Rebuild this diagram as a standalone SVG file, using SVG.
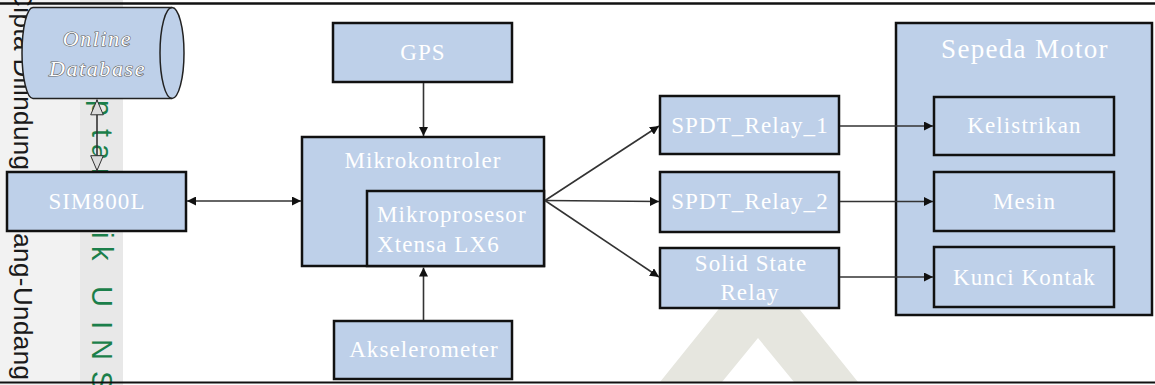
<svg xmlns="http://www.w3.org/2000/svg" width="1155" height="385" viewBox="0 0 1155 385">
<defs>
<style>
.box{fill:#bed0e9;stroke:#111;stroke-width:2.5}
.t{font-size:23px;fill:#ffffff;letter-spacing:1.1px;text-anchor:middle}
.c{fill:none;stroke:#333;stroke-width:1.6}
</style>
<marker id="ah" viewBox="0 0 10 10" refX="10" refY="5" markerWidth="9" markerHeight="9" markerUnits="userSpaceOnUse" orient="auto-start-reverse"><path d="M0,0 L10,5 L0,10 z" fill="#111"/></marker>
<marker id="ho" viewBox="0 0 16 14" refX="16" refY="7" markerWidth="17" markerHeight="14" markerUnits="userSpaceOnUse" orient="auto-start-reverse"><path d="M0.7,0.7 L15.5,7 L0.7,13.3 z" fill="#dcdcdc" stroke="#333" stroke-width="1"/></marker>
</defs>
<rect x="0" y="0" width="1155" height="385" fill="#ffffff"/>
<g id="watermark" font-family="Liberation Sans, Arial, sans-serif">
<rect x="0" y="0" width="80" height="385" fill="#f2f2f2"/>
<rect x="80" y="0" width="43" height="385" fill="#e8e8e8"/>
<path d="M759,259 L858,382 L660,382 Z M758,338 L722,382 L794,382 Z" fill="#e6e6df" fill-rule="evenodd"/>
<g transform="translate(14,0) rotate(90)"><text x="-67" y="0" font-size="26" fill="#1a1a1a" textLength="447" lengthAdjust="spacing">Hak Cipta Dilindungi Undang-Undang</text></g>
<g transform="translate(92,0) rotate(90)"><text x="-62 -40 -18 0 30 70 100 129 144 160 168 195 210 232 246 270 286 321 339 360 371" y="0" font-size="29" fill="#1b7f4a">Hak Cipta milik UIN S</text></g>
</g>
<line x1="0" y1="3.5" x2="1155" y2="3.5" stroke="#111" stroke-width="2.5"/>
<line x1="0" y1="382.5" x2="1155" y2="382.5" stroke="#111" stroke-width="2"/>
<g font-family="Liberation Serif, DejaVu Serif, Times New Roman, serif">
<g id="online-database">
<path d="M33,7.5 H172 A12,45.5 0 0 1 172,98.5 H33 A11,45.5 0 0 1 33,7.5 Z" fill="#bed0e9" stroke="#222" stroke-width="1.5"/>
<path d="M172,7.5 A12,45.5 0 0 0 172,98.5" fill="none" stroke="#222" stroke-width="1.5"/>
<text class="t" x="97.5" y="46" font-style="italic" style="font-size:22px;letter-spacing:1.6px;paint-order:stroke" stroke="#666" stroke-width="1.2">Online</text>
<text class="t" x="97.5" y="76" font-style="italic" style="font-size:22px;letter-spacing:1.6px;paint-order:stroke" stroke="#666" stroke-width="1.2">Database</text>
</g>
<g id="sim800l"><rect class="box" x="7" y="172" width="179" height="59"/><text class="t" x="97" y="209">SIM800L</text></g>
<g id="gps"><rect class="box" x="333" y="23" width="179" height="59"/><text class="t" x="423" y="60">GPS</text></g>
<g id="mikrokontroler"><rect class="box" x="302" y="137" width="242" height="129"/><text class="t" x="423" y="168">Mikrokontroler</text></g>
<g id="mikroprosesor"><rect class="box" x="367" y="191" width="177" height="75"/><text class="t" x="377" y="222" style="text-anchor:start">Mikroprosesor</text><text class="t" x="377" y="252" style="text-anchor:start">Xtensa LX6</text></g>
<g id="akselerometer"><rect class="box" x="334" y="321" width="178" height="58"/><text class="t" x="424" y="357">Akselerometer</text></g>
<g id="spdt-relay-1"><rect class="box" x="660" y="96" width="179" height="58"/><text class="t" x="750" y="133">SPDT_Relay_1</text></g>
<g id="spdt-relay-2"><rect class="box" x="660" y="172" width="179" height="60"/><text class="t" x="750" y="209">SPDT_Relay_2</text></g>
<g id="solid-state-relay"><rect class="box" x="660" y="248" width="179" height="60"/><text class="t" x="751" y="271">Solid State</text><text class="t" x="750" y="300">Relay</text></g>
<g id="sepeda-motor"><rect class="box" x="896" y="23" width="256" height="292"/><text class="t" x="1025" y="58" style="font-size:27px;letter-spacing:1.3px">Sepeda Motor</text></g>
<g id="kelistrikan"><rect class="box" x="934" y="97" width="180" height="58"/><text class="t" x="1024.5" y="133">Kelistrikan</text></g>
<g id="mesin"><rect class="box" x="934" y="172" width="180" height="59"/><text class="t" x="1024.5" y="209">Mesin</text></g>
<g id="kunci-kontak"><rect class="box" x="934" y="247" width="180" height="60"/><text class="t" x="1024.5" y="285">Kunci Kontak</text></g>
</g>
<g id="connectors">
<path class="c" d="M97,99.5 V171" marker-start="url(#ho)" marker-end="url(#ho)"/>
<path class="c" d="M187,201 H301" marker-start="url(#ah)" marker-end="url(#ah)"/>
<path class="c" d="M423.5,83 V136" marker-end="url(#ah)"/>
<path class="c" d="M423.5,320 V267.5" marker-end="url(#ah)"/>
<path class="c" d="M545,200.5 L659,126" marker-end="url(#ah)"/>
<path class="c" d="M545,200.5 L659,201.5" marker-end="url(#ah)"/>
<path class="c" d="M545,200.5 L659,277" marker-end="url(#ah)"/>
<path class="c" d="M840,126 H933" marker-end="url(#ah)"/>
<path class="c" d="M840,201.5 H933" marker-end="url(#ah)"/>
<path class="c" d="M840,277 H933" marker-end="url(#ah)"/>
</g>
</svg>
